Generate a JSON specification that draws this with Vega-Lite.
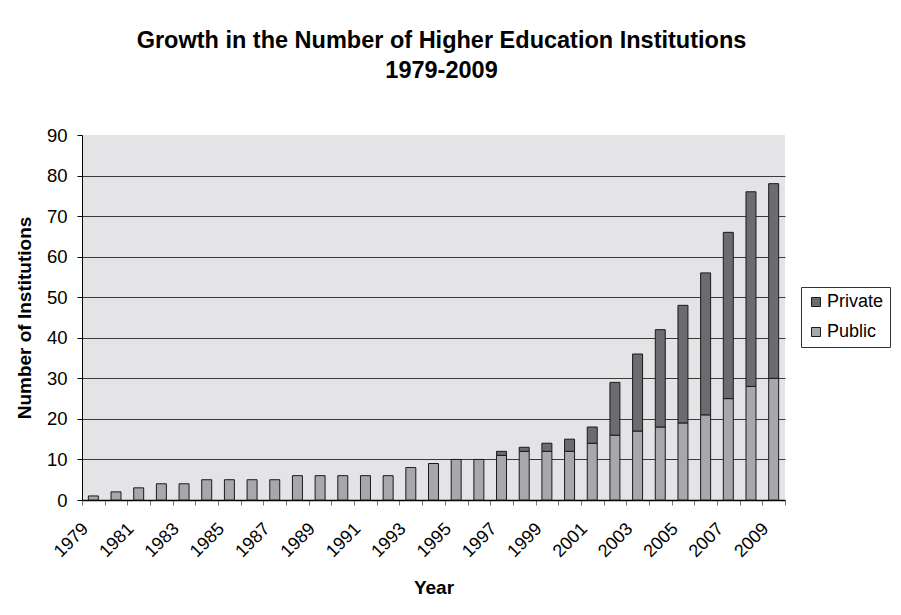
{
  "$schema": "https://vega.github.io/schema/vega-lite/v6.json",
  "width": 703,
  "height": 365,
  "autosize": "none",
  "padding": {"left": 82, "top": 135, "right": 116, "bottom": 115},
  "background": "#FFFFFF",
  "title": {
    "text": ["Growth in the Number of Higher Education Institutions", "1979-2009"],
    "font": "Liberation Sans",
    "fontSize": 23.5,
    "fontWeight": "bold",
    "color": "#000000",
    "lineHeight": 30,
    "anchor": "middle",
    "dx": 8,
    "offset": 44
  },
  "config": {
    "font": "Liberation Sans",
    "view": {"fill": "#E4E4E6", "stroke": null}
  },
  "data": {
    "values": [
      {"year": "1979", "type": "Public", "count": 1},
      {"year": "1980", "type": "Public", "count": 2},
      {"year": "1981", "type": "Public", "count": 3},
      {"year": "1982", "type": "Public", "count": 4},
      {"year": "1983", "type": "Public", "count": 4},
      {"year": "1984", "type": "Public", "count": 5},
      {"year": "1985", "type": "Public", "count": 5},
      {"year": "1986", "type": "Public", "count": 5},
      {"year": "1987", "type": "Public", "count": 5},
      {"year": "1988", "type": "Public", "count": 6},
      {"year": "1989", "type": "Public", "count": 6},
      {"year": "1990", "type": "Public", "count": 6},
      {"year": "1991", "type": "Public", "count": 6},
      {"year": "1992", "type": "Public", "count": 6},
      {"year": "1993", "type": "Public", "count": 8},
      {"year": "1994", "type": "Public", "count": 9},
      {"year": "1995", "type": "Public", "count": 10},
      {"year": "1996", "type": "Public", "count": 10},
      {"year": "1997", "type": "Public", "count": 11},
      {"year": "1997", "type": "Private", "count": 1},
      {"year": "1998", "type": "Public", "count": 12},
      {"year": "1998", "type": "Private", "count": 1},
      {"year": "1999", "type": "Public", "count": 12},
      {"year": "1999", "type": "Private", "count": 2},
      {"year": "2000", "type": "Public", "count": 12},
      {"year": "2000", "type": "Private", "count": 3},
      {"year": "2001", "type": "Public", "count": 14},
      {"year": "2001", "type": "Private", "count": 4},
      {"year": "2002", "type": "Public", "count": 16},
      {"year": "2002", "type": "Private", "count": 13},
      {"year": "2003", "type": "Public", "count": 17},
      {"year": "2003", "type": "Private", "count": 19},
      {"year": "2004", "type": "Public", "count": 18},
      {"year": "2004", "type": "Private", "count": 24},
      {"year": "2005", "type": "Public", "count": 19},
      {"year": "2005", "type": "Private", "count": 29},
      {"year": "2006", "type": "Public", "count": 21},
      {"year": "2006", "type": "Private", "count": 35},
      {"year": "2007", "type": "Public", "count": 25},
      {"year": "2007", "type": "Private", "count": 41},
      {"year": "2008", "type": "Public", "count": 28},
      {"year": "2008", "type": "Private", "count": 48},
      {"year": "2009", "type": "Public", "count": 30},
      {"year": "2009", "type": "Private", "count": 48}
    ]
  },
  "mark": {"type": "bar", "width": {"band": 0.44}, "stroke": "#1A1A1A", "strokeWidth": 1},
  "encoding": {
    "x": {
      "field": "year",
      "type": "ordinal",
      "scale": {"paddingInner": 0, "paddingOuter": 0},
      "axis": {
        "title": "Year",
        "titleFont": "Liberation Sans",
        "titleFontSize": 19,
        "titleFontWeight": "bold",
        "titleColor": "#000000",
        "titleBaseline": "alphabetic",
        "titleY": 93,
        "labelFont": "Liberation Sans",
        "labelFontSize": 18,
        "labelColor": "#000000",
        "labelAngle": -45,
        "labelAlign": "right",
        "labelBaseline": "middle",
        "labelPadding": 21,
        "labelOffset": -8,
        "labelExpr": "toNumber(datum.value) % 2 === 1 ? datum.label : ''",
        "labelOverlap": false,
        "labelBound": false,
        "tickBand": "extent",
        "tickColor": "#777777",
        "tickSize": 5,
        "domainColor": "#000000",
        "domainWidth": 1.5,
        "grid": false
      }
    },
    "y": {
      "field": "count",
      "type": "quantitative",
      "aggregate": "sum",
      "scale": {"domain": [0, 90]},
      "axis": {
        "title": "Number of Institutions",
        "titleFont": "Liberation Sans",
        "titleFontSize": 19,
        "titleFontWeight": "bold",
        "titleColor": "#000000",
        "titleBaseline": "alphabetic",
        "titleX": -52,
        "values": [0, 10, 20, 30, 40, 50, 60, 70, 80, 90],
        "labelFont": "Liberation Sans",
        "labelFontSize": 18.5,
        "labelColor": "#000000",
        "labelPadding": 10,
        "tickColor": "#000000",
        "tickSize": 5,
        "domainColor": "#000000",
        "domainWidth": 1,
        "grid": true,
        "gridColor": {"condition": {"test": "datum.value === 90 || datum.value === 0", "value": "transparent"}, "value": "#3A3A3A"},
        "gridWidth": 1
      }
    },
    "color": {
      "field": "type",
      "type": "nominal",
      "scale": {"domain": ["Private", "Public"], "range": ["#6C6C70", "#A8A8AC"]},
      "legend": {
        "title": null,
        "orient": "none",
        "legendX": 719,
        "legendY": 152,
        "direction": "vertical",
        "symbolType": "square",
        "symbolSize": 81,
        "symbolStrokeColor": "#1A1A1A",
        "symbolStrokeWidth": 1,
        "labelFont": "Liberation Sans",
        "labelFontSize": 18,
        "labelColor": "#000000",
        "labelOffset": 2,
        "rowPadding": 12,
        "padding": 6,
        "strokeColor": "#333333",
        "fillColor": "#FFFFFF"
      }
    },
    "order": {"field": "type", "sort": "descending"}
  }
}
